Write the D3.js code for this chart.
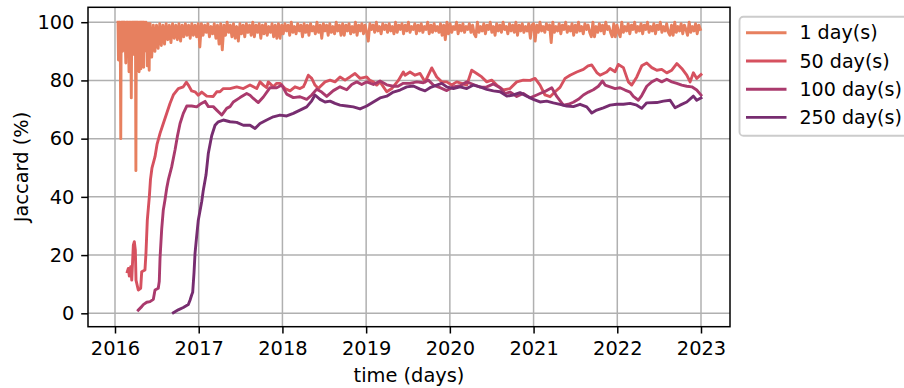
<!DOCTYPE html>
<html><head><meta charset="utf-8">
<script src="https://cdn.jsdelivr.net/npm/d3@7/dist/d3.min.js"></script>
<style>body{margin:0;background:#fff;} svg{display:block;} text{font-family:"DejaVu Sans",sans-serif;fill:#000;}</style>
</head><body><svg id="c" width="904" height="388"></svg>
<script>
// ---------- data ----------
const seriesNames = ["1 day(s)", "50 day(s)", "100 day(s)", "250 day(s)"];
const seriesColors = ["#e7805f", "#d6515f", "#aa3a6d", "#772d70"];
const xTickLabels = [2016, 2017, 2018, 2019, 2020, 2021, 2022, 2023];
const yTickLabels = [0, 20, 40, 60, 80, 100];
const xLabel = "time (days)";
const yLabel = "Jaccard (%)";

// 1-day window, early part: every 2 days from 2016-01-14 (decimal year 2016.036)
const day1EarlyStart = 2016.036;
const day1EarlyStepDays = 2;
const day1Early = [100,87,100,91,100,93,60,100,92,100,90,100,93,100,91,100,92,86,100,92,100,90,100,92,83,100,91,100,92,74,100,90,100,92,100,89,100,91,100,49,100,92,100,90,100,91,83,100,90,100,84,100,91,100,90,100,84.5,100,91,99.5,92,100,90,99.5,85,99.5,91,99.5,83.5,99.5];
// 1-day window, main part: weekly from 2016-06-02 (decimal year 2016.4193)
const day1MainStart = 2016.4193;
const day1MainStepDays = 7;
const day1_2016 = [99.5,88,99,90,99,91,99.5,92,99,92.5,99.5,94,99,93,99.5,94.5,99,94,99.5,93.5,99,95,99.5,95.5,99,94.5,99.5,95.5,99,95,99.5];
const day1_2017 = [91.5,99.5,95.5,99,96.5,99.5,95,98.5,96,99.5,94.5,99,92.5,99.5,90.5,99,95.5,100,96.5,99,95,99.5,94.5,98.5,93.5,99.5,96,99,95,99.5,96.5,99,95.5,100,95,99,96.5,99.5,94.5,99,96,99.5,95.5,98.5,96.5,99.5,95,99,94.5,99.5,94.5,99];
const day1_2018 = [96,99.5,97,99,95.5,100,96.5,98.5,96,99.5,97,99,95,99.5,96.5,99,95.5,99.5,97,98.5,96,100,96.5,99,94.5,99.5,97,99,95.5,99.5,96.5,98.5,96,100,97,99,95.5,99.5,95.5,99,97,99.5,96,98.5,96.5,100,95.5,99,97,99.5,96,99];
const day1_2019 = [96.5,93.5,99.5,97.5,99,96.5,100,97,98.5,96,99.5,97.5,99,96.5,99.5,97,98.5,96,100,96.5,99,97.5,99.5,96,99,97,100,96.5,98.5,97.5,99.5,96,99,97,99.5,96.5,98.5,97.5,100,96,99,96.5,99.5,97,98.5,96.5,99.5,95.5,99,94,100,96];
const day1_2020 = [99.5,96.5,98.5,97.5,100,96,99,97,99.5,96.5,98.5,97.5,99.5,96.5,99,96,95,100,96.5,98.5,97,99.5,96,99,97.5,100,96.5,98.5,95.5,99.5,97,99,96.5,100,97.5,98.5,96,99.5,97,99,96.5,100,95.5,99,97,99.5,96.5,98.5,97,99.5,94.5,99];
const day1_2021 = [99.5,93.5,99,96.5,100,97,98.5,96.5,99.5,97.5,99,93,100,96.5,98.5,97,99.5,96,99,97.5,100,96.5,98.5,97,99.5,95.5,99,96.5,100,97,98.5,96,99.5,97.5,99,96.5,95,100,95,98.5,96.5,99.5,97,99,96,100,97.5,98.5,96.5,95,99.5,95];
const day1_2022 = [99,96.5,95,100,96.5,98.5,97,99.5,96,99,97.5,100,96.5,98.5,97,99.5,96,99,97.5,100,96.5,98.5,97,99.5,96,99,97.5,100,96.5,98.5,97,99.5,96.5,95.5,99,95.5,100,96.5,98.5,97,99.5,96,99,97.5,95.5,100,96.5,98.5,97,99.5,96,99,97.5];

// rolling windows: [decimal year, Jaccard %]
const win50 = [[2016.147,14.3],[2016.159,15.4],[2016.171,12.8],[2016.188,16],[2016.200,11.4],[2016.219,23.4],[2016.231,24.6],[2016.243,21.7],[2016.251,11.4],[2016.278,8],[2016.307,8.6],[2016.319,14.3],[2016.358,14.9],[2016.370,20.7],[2016.386,32],[2016.410,40],[2016.424,46],[2016.442,50],[2016.478,53.8],[2016.502,58],[2016.538,61.8],[2016.577,65.2],[2016.618,68.7],[2016.657,72.1],[2016.697,75],[2016.756,77.2],[2016.816,77.8],[2016.852,79.4],[2016.876,78.4],[2016.916,76.4],[2016.956,76.1],[2016.995,74.9],[2017.036,76],[2017.096,74.6],[2017.174,74.5],[2017.215,76.1],[2017.254,76.1],[2017.294,77.2],[2017.374,77.2],[2017.454,77.8],[2017.533,77.2],[2017.613,78.4],[2017.693,77.2],[2017.732,79.5],[2017.772,78.4],[2017.812,77.5],[2017.831,79.5],[2017.891,77.8],[2017.932,79],[2017.971,79],[2018.031,77.2],[2018.091,76.4],[2018.150,77.8],[2018.210,77.2],[2018.250,77.8],[2018.270,79],[2018.309,81.8],[2018.350,80.7],[2018.389,78.4],[2018.429,77.2],[2018.449,77.8],[2018.509,79.5],[2018.569,80.1],[2018.628,79.5],[2018.688,81.2],[2018.748,80.1],[2018.807,81.2],[2018.867,82.4],[2018.927,80.7],[2019.007,81.2],[2019.046,80],[2019.086,79.5],[2019.126,78.4],[2019.166,79.5],[2019.246,76.1],[2019.306,77.2],[2019.385,80],[2019.444,82.9],[2019.465,81.8],[2019.524,82.9],[2019.584,81.8],[2019.644,82.4],[2019.704,79.5],[2019.784,84.3],[2019.843,81.2],[2019.903,79.5],[2019.963,79.5],[2020.022,78.4],[2020.082,79.5],[2020.142,79],[2020.202,78.4],[2020.261,83.5],[2020.321,82.4],[2020.381,81.2],[2020.441,79.5],[2020.500,80.1],[2020.560,78.4],[2020.639,76.7],[2020.719,77.2],[2020.799,79.5],[2020.878,80.1],[2020.958,80],[2021.018,80.7],[2021.077,78.4],[2021.137,75],[2021.197,74.4],[2021.257,76.1],[2021.316,77.6],[2021.376,80.7],[2021.436,81.8],[2021.516,82.9],[2021.595,83.8],[2021.651,85],[2021.695,85.3],[2021.755,82.7],[2021.794,81.8],[2021.874,82.9],[2021.914,84.1],[2021.974,83],[2022.013,85.5],[2022.073,84.4],[2022.132,79.5],[2022.173,78.4],[2022.233,81.2],[2022.292,85],[2022.352,86],[2022.412,84.4],[2022.472,83.5],[2022.531,83.8],[2022.591,82.6],[2022.651,83.5],[2022.711,85.8],[2022.770,84.1],[2022.830,81.8],[2022.870,79.5],[2022.909,82.6],[2022.949,80.7],[2023.0,82]];
const win100 = [[2016.278,1.1],[2016.319,2.3],[2016.338,3],[2016.379,3.8],[2016.418,4],[2016.458,4.8],[2016.478,8],[2016.517,8.6],[2016.529,11],[2016.538,19],[2016.558,29],[2016.577,35.5],[2016.597,38.9],[2016.618,43],[2016.637,45.8],[2016.677,50.3],[2016.717,56.1],[2016.744,60.6],[2016.777,65.2],[2016.816,68.7],[2016.857,71.2],[2016.916,71.2],[2016.976,70.9],[2017.015,71.8],[2017.075,72.8],[2017.115,71],[2017.174,71],[2017.215,69.8],[2017.275,68.1],[2017.334,70.4],[2017.374,71],[2017.413,72.6],[2017.493,74.1],[2017.573,75.5],[2017.613,74.9],[2017.652,73.8],[2017.712,72.4],[2017.772,74.3],[2017.852,77.5],[2017.932,77.5],[2017.992,78.4],[2018.051,75.3],[2018.130,74.1],[2018.210,74.4],[2018.290,73.5],[2018.350,75],[2018.410,77],[2018.469,76],[2018.529,74.5],[2018.608,76.5],[2018.688,77.8],[2018.768,76.8],[2018.828,78.6],[2018.888,79.5],[2018.947,78.6],[2019.007,79.5],[2019.086,78.6],[2019.166,79.8],[2019.246,78.5],[2019.325,78],[2019.381,78],[2019.444,79],[2019.524,79],[2019.604,79.5],[2019.683,79.2],[2019.743,80.1],[2019.803,78.4],[2019.883,77.5],[2019.963,76.5],[2020.042,77.8],[2020.122,78.2],[2020.202,79.5],[2020.281,78.6],[2020.361,77.7],[2020.441,77.8],[2020.520,78.8],[2020.600,77.5],[2020.659,75.5],[2020.719,76],[2020.799,74.5],[2020.878,75.5],[2020.958,74],[2021.038,75],[2021.077,75.5],[2021.157,76.5],[2021.217,77.5],[2021.277,74.5],[2021.356,71.5],[2021.416,71.8],[2021.475,72.5],[2021.535,73.5],[2021.595,75],[2021.655,76],[2021.714,76.8],[2021.774,78],[2021.824,79.8],[2021.854,78.4],[2021.914,77.8],[2021.974,77.2],[2022.033,77.5],[2022.093,76.7],[2022.153,76],[2022.192,74.5],[2022.252,73.2],[2022.292,74.8],[2022.352,78],[2022.412,79.5],[2022.472,80.4],[2022.531,79.5],[2022.591,80.4],[2022.651,79.5],[2022.711,79],[2022.770,78.4],[2022.830,78],[2022.890,77.8],[2022.949,76.7],[2023.0,75]];
const win250 = [[2016.697,0.2],[2016.756,1.2],[2016.816,2],[2016.876,3],[2016.896,4.5],[2016.916,6.3],[2016.928,7.2],[2016.944,14],[2016.956,20.6],[2016.974,26],[2016.995,32],[2017.036,38.4],[2017.055,42.3],[2017.087,47.5],[2017.115,55],[2017.155,61],[2017.195,64.6],[2017.234,65.8],[2017.294,66.4],[2017.374,65.8],[2017.454,65.6],[2017.533,64.6],[2017.613,64.6],[2017.673,63.5],[2017.732,65.2],[2017.812,66.4],[2017.891,67.5],[2017.971,68.1],[2018.051,67.8],[2018.130,68.7],[2018.210,69.8],[2018.290,70.9],[2018.350,73],[2018.389,75],[2018.449,73.5],[2018.509,72.6],[2018.569,72.9],[2018.628,72.1],[2018.688,71.5],[2018.768,71.2],[2018.847,70.9],[2018.927,70.2],[2019.007,71.2],[2019.086,72.6],[2019.166,74],[2019.246,74.6],[2019.325,76],[2019.405,76.7],[2019.485,77.8],[2019.564,78.1],[2019.644,77],[2019.704,76.4],[2019.763,77.5],[2019.843,78.4],[2019.903,79],[2019.963,77.8],[2020.042,77.2],[2020.122,77.8],[2020.202,77.2],[2020.281,78.4],[2020.361,77.8],[2020.441,76.9],[2020.520,76.4],[2020.600,76.1],[2020.680,74.6],[2020.758,75],[2020.838,75.8],[2020.918,74.6],[2020.998,73.5],[2021.077,72.6],[2021.157,72.9],[2021.236,72.3],[2021.316,71.8],[2021.396,71.2],[2021.475,71],[2021.555,71.8],[2021.635,70.9],[2021.695,68.8],[2021.755,69.8],[2021.834,70.6],[2021.914,71.5],[2021.994,71.8],[2022.073,71.8],[2022.153,72.1],[2022.233,71.5],[2022.292,70.4],[2022.352,72.3],[2022.472,72.4],[2022.551,72.9],[2022.631,73.2],[2022.690,70.6],[2022.750,71.5],[2022.830,72.6],[2022.909,74.6],[2022.949,73.2],[2023.0,74]];

// ---------- layout ----------
const svg = d3.select("#c");
const plot = {left: 88, right: 730, top: 7.3, bottom: 326.7};
const FS = 19.4;

const x = d3.scaleLinear().domain([2015.6775, 2023.3464]).range([plot.left, plot.right]);
const y = d3.scaleLinear().domain([-4.6, 105.12]).range([plot.bottom, plot.top]);

// grid
const grid = svg.append("g");
grid.selectAll(".gx").data(xTickLabels).join("line")
  .attr("x1", d => x(d)).attr("x2", d => x(d)).attr("y1", plot.top).attr("y2", plot.bottom)
  .attr("stroke", "#b0b0b0").attr("stroke-width", 1.5);
grid.selectAll(".gy").data(yTickLabels).join("line")
  .attr("x1", plot.left).attr("x2", plot.right).attr("y1", d => y(d)).attr("y2", d => y(d))
  .attr("stroke", "#b0b0b0").attr("stroke-width", 1.5);

// clip
svg.append("clipPath").attr("id", "clip").append("rect")
  .attr("x", plot.left).attr("y", plot.top).attr("width", plot.right - plot.left).attr("height", plot.bottom - plot.top);

const day1MainValues = [].concat(day1_2016, day1_2017, day1_2018, day1_2019, day1_2020, day1_2021, day1_2022);
const day1 = day1Early.map((v, i) => [day1EarlyStart + i * day1EarlyStepDays / 365.25, v])
  .concat(day1MainValues.map((v, i) => [day1MainStart + i * day1MainStepDays / 365.25, v]));
const allSeries = [day1, win50, win100, win250];

const line = d3.line().x(d => x(d[0])).y(d => y(d[1]));
const lines = svg.append("g").attr("clip-path", "url(#clip)");
allSeries.forEach((s, k) => {
  lines.append("path").datum(s).attr("d", line)
    .attr("fill", "none").attr("stroke", seriesColors[k])
    .attr("stroke-width", 2.9).attr("stroke-linejoin", "round").attr("stroke-linecap", "square");
});

// axes
const xAxis = d3.axisBottom(x).tickValues(xTickLabels).tickFormat(d3.format("d")).tickSize(6.8).tickPadding(8);
const yAxis = d3.axisLeft(y).tickValues(yTickLabels).tickFormat(d3.format("d")).tickSize(6.8).tickPadding(6.8);
const gx = svg.append("g").attr("transform", `translate(0,${plot.bottom})`).call(xAxis);
const gy = svg.append("g").attr("transform", `translate(${plot.left},0)`).call(yAxis);
[gx, gy].forEach(g => {
  g.select(".domain").remove();
  g.selectAll(".tick line").attr("stroke", "#000").attr("stroke-width", 1.5);
  g.selectAll(".tick text").attr("font-size", FS).attr("font-family", "DejaVu Sans").attr("fill", "#000");
});

// spines
svg.append("rect").attr("x", plot.left).attr("y", plot.top)
  .attr("width", plot.right - plot.left).attr("height", plot.bottom - plot.top)
  .attr("fill", "none").attr("stroke", "#000").attr("stroke-width", 1.5);

// axis labels
svg.append("text").attr("x", (plot.left + plot.right) / 2).attr("y", 381.5)
  .attr("text-anchor", "middle").attr("font-size", FS).text(xLabel);
svg.append("text").attr("transform", `translate(27.5,${(plot.top + plot.bottom) / 2}) rotate(-90)`)
  .attr("text-anchor", "middle").attr("font-size", FS).text(yLabel);

// legend
const lg = svg.append("g");
lg.append("rect").attr("x", 739.5).attr("y", 16.8).attr("width", 200).attr("height", 119)
  .attr("rx", 3.9).attr("fill", "#fff").attr("fill-opacity", 0.8)
  .attr("stroke", "#cccccc").attr("stroke-width", 1.9);
seriesNames.forEach((name, k) => {
  const ly = 32.8 + k * 28.2;
  lg.append("line").attr("x1", 746).attr("x2", 786.5).attr("y1", ly).attr("y2", ly)
    .attr("stroke", seriesColors[k]).attr("stroke-width", 2.9);
  lg.append("text").attr("x", 799.4).attr("y", ly + 6.6).attr("font-size", 19.1).text(name);
});
</script></body></html>
